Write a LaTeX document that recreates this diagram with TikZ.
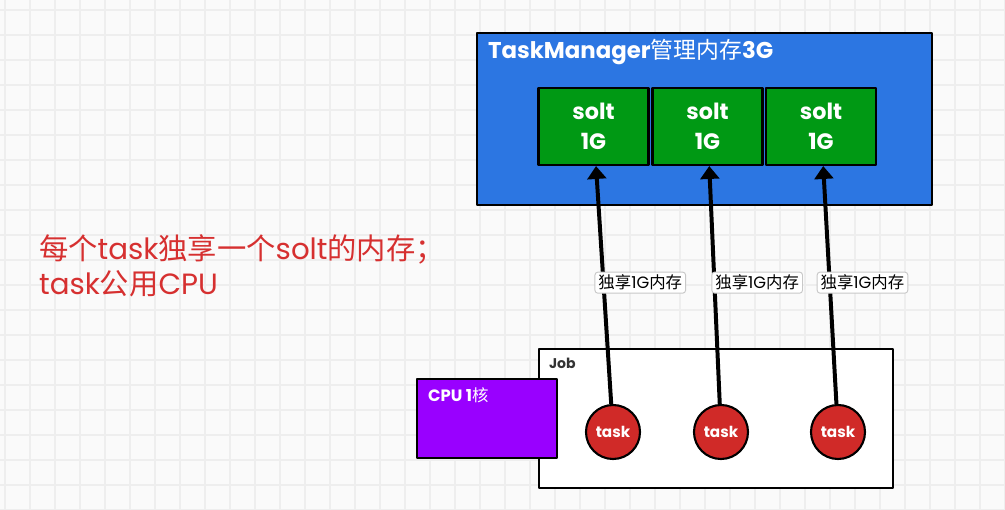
\documentclass[tikz,border=0pt]{standalone}
\usepackage{fontspec}
\setmainfont{Poppins}
\newfontfamily\cjk{Noto Sans CJK SC}
\newcommand\zh[1]{{\cjk\mdseries #1}}
\usetikzlibrary{arrows.meta}
\definecolor{tmblue}{RGB}{44,118,226}
\definecolor{slotgreen}{RGB}{0,153,20}
\definecolor{taskred}{RGB}{208,42,40}
\definecolor{cpupurple}{RGB}{153,0,255}
\definecolor{notered}{RGB}{214,48,48}
\definecolor{gridgray}{RGB}{238,238,238}
\definecolor{paper}{RGB}{250,250,250}
\definecolor{labelgray}{RGB}{200,200,200}

\tikzset{
  gridline/.style={gridgray, line width=1.2pt},
  tmbox/.style={draw=black, line width=1.8pt, fill=tmblue,
    minimum width=13.65cm, minimum height=5.16cm},
  slotbox/.style={draw=black, line width=1.8pt, fill=slotgreen,
    minimum width=3.3cm, minimum height=2.31cm, text=white, align=center,
    font=\fontsize{19}{26}\selectfont\bfseries},
  jobbox/.style={draw=black, line width=1.8pt, fill=white,
    minimum width=10.62cm, minimum height=4.17cm},
  cpubox/.style={draw=black, line width=1.8pt, fill=cpupurple,
    minimum width=4.2cm, minimum height=2.37cm},
  taskdot/.style={circle, draw=black, line width=1.8pt, fill=taskred,
    minimum size=1.62cm, inner sep=0pt, text=white,
    font=\fontsize{13}{15}\selectfont\bfseries},
  uselink/.style={line width=3.4pt, -{Triangle[length=11pt, width=16pt]}},
  memlabel/.style={draw=labelgray, line width=0.8pt, fill=white,
    rounded corners=2.5pt, inner xsep=3pt, inner ysep=2.5pt,
    font=\fontsize{14}{16}\selectfont},
}

\begin{document}
\begin{tikzpicture}[x=0.03cm, y=-0.03cm, line join=round]
  % paper and grid
  \useasboundingbox (0,0) rectangle (1005,510);
  \fill[paper] (0,0) rectangle (1005,510);
  \foreach \gx in {5,30,...,1005}
    \draw[gridline] (\gx,0) -- (\gx,510);
  \foreach \gy in {10,35,...,510}
    \draw[gridline] (0,\gy) -- (1005,\gy);

  % task manager with its slots
  \node[tmbox] (tm) at (704.5,119) {};
  \node[anchor=west, text=white, font=\fontsize{19.5}{22}\selectfont\bfseries]
    (tmlbl) at ([shift={(8,20)}]tm.north west) {TaskManager\zh{管理内存}3G};
  \foreach \i/\sx in {1/593.5,2/707.5,3/821}
    \node[slotbox] (s\i) at (\sx,126.5) {solt\\1G};

  % job with cpu
  \node[jobbox] (job) at (716,418.5) {};
  \node[anchor=west, text=black!80, font=\fontsize{12}{14}\selectfont\bfseries]
    (joblbl) at ([shift={(7,15)}]job.north west) {Job};
  \node[cpubox] (cpu) at (487,418.5) {};
  \node[anchor=west, text=white, font=\fontsize{14}{16}\selectfont\bfseries]
    (cpulbl) at ([shift={(8,17)}]cpu.north west) {CPU 1\zh{核}};

  % tasks and their slot memory
  \foreach \i/\tx/\dx in {1/613/-9,2/721/-3,3/838/-13} {
    \node[taskdot] (t\i) at (\tx,432) {task};
    \draw[uselink] (t\i) -- (s\i)
      node[memlabel, pos=0.51, anchor=west, xshift=\dx*0.03cm] (m\i)
      {\zh{独享}1G\zh{内存}};
  }

  % note
  \node[anchor=west, align=left, text=notered,
    font=\fontsize{25}{30}\selectfont] (note) at (35,265.5)
    {\zh{每个}task\zh{独享一个}solt\zh{的内存；}\\task\zh{公用}CPU};
\end{tikzpicture}
\end{document}
